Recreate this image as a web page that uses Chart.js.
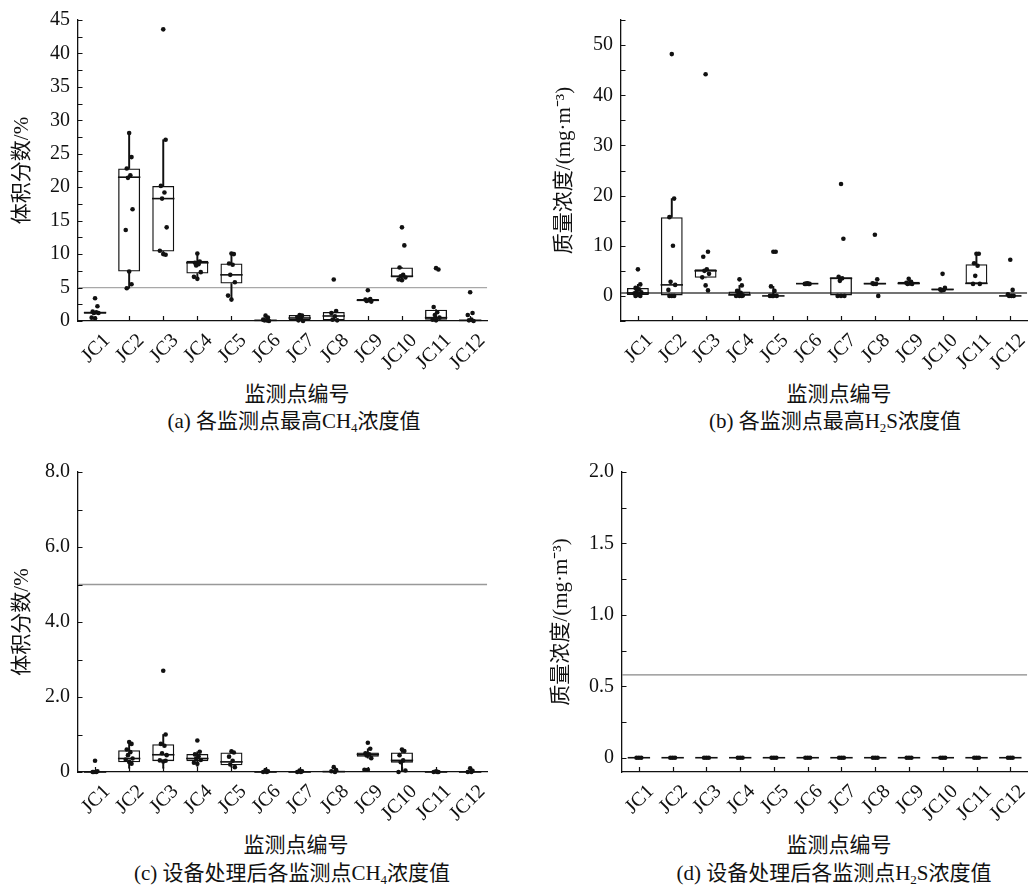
<!DOCTYPE html>
<html lang="zh-CN">
<head>
<meta charset="utf-8">
<title>监测点浓度箱线图</title>
<script src="https://cdn.jsdelivr.net/npm/chart.js@4.4.1/dist/chart.umd.min.js"></script>
<style>
html,body{margin:0;padding:0;background:#fff;}
body{width:1034px;height:889px;overflow:hidden;position:relative;font-family:"Liberation Serif","Noto Sans CJK SC",serif;color:#111;}
canvas{position:absolute;}
.lbl{position:absolute;transform:translate(-50%,-50%);white-space:nowrap;font-size:21px;line-height:1;}
.lbl sub{font-size:13px;vertical-align:-4px;line-height:0;}
</style>
</head>
<body>
<canvas id="pa" width="500" height="380" style="left:0;top:0"></canvas>
<canvas id="pb" width="500" height="380" style="left:540px;top:0"></canvas>
<canvas id="pc" width="500" height="380" style="left:0;top:452px"></canvas>
<canvas id="pd" width="500" height="380" style="left:540px;top:452px"></canvas>

<div class="lbl" style="left:297px;top:394px">监测点编号</div>
<div class="lbl" style="left:294px;top:421px">(a) 各监测点最高CH<sub>4</sub>浓度值</div>
<div class="lbl" style="left:839px;top:394px">监测点编号</div>
<div class="lbl" style="left:835px;top:421px">(b) 各监测点最高H<sub>2</sub>S浓度值</div>
<div class="lbl" style="left:296px;top:845px">监测点编号</div>
<div class="lbl" style="left:292px;top:873px">(c) 设备处理后各监测点CH<sub>4</sub>浓度值</div>
<div class="lbl" style="left:839px;top:845px">监测点编号</div>
<div class="lbl" style="left:834px;top:873px">(d) 设备处理后各监测点H<sub>2</sub>S浓度值</div>

<script>
// ---------------- data ----------------
const stations = ['JC1','JC2','JC3','JC4','JC5','JC6','JC7','JC8','JC9','JC10','JC11','JC12'];

// (a) highest CH4 volume fraction at each station, %
const ch4MaxPoints = [
  [3.4, 2.2, 1.4, 1.3, 1.2, 1.2, 0.5, 0.4],
  [28.1, 24.5, 22.8, 21.8, 21.4, 16.7, 13.6, 7.4, 5.5, 4.9],
  [43.6, 27.1, 20.2, 19.2, 18.3, 14.0, 10.5, 10.0, 9.9],
  [10.1, 8.9, 8.7, 8.5, 8.3, 7.3, 6.6, 6.3],
  [10.1, 10.0, 8.6, 8.4, 6.9, 5.8, 3.8, 3.2],
  [0.8, 0.5, 0.2, 0.1, 0.1, 0.0],
  [0.9, 0.8, 0.6, 0.3, 0.1, 0.0],
  [6.2, 1.5, 1.2, 0.7, 0.2, 0.1],
  [4.6, 3.3, 3.2, 3.1, 3.0, 2.9],
  [14.0, 11.3, 8.0, 6.9, 6.7, 6.5, 6.2, 6.1],
  [7.9, 7.7, 2.1, 1.3, 0.9, 0.5, 0.2, 0.1],
  [4.3, 1.2, 0.9, 0.2, 0.1, 0.0]
];
const ch4MaxQ1      = [1.1, 7.4, 10.4, 7.1, 5.6, 0.05, 0.1, 0.1, 2.95, 6.5, 0.2, 0.05];
const ch4MaxMedian  = [1.25, 21.5, 18.3, 8.7, 6.9, 0.1, 0.45, 0.75, 3.1, 6.7, 0.5, 0.1];
const ch4MaxQ3      = [1.4, 22.8, 20.2, 9.0, 8.6, 0.15, 0.9, 1.35, 3.3, 8.0, 1.7, 0.2];
const ch4MaxWhiskLo = [1.1, 4.9, 9.9, 6.3, 3.2, 0.05, 0.1, 0.1, 2.95, 6.1, 0.2, 0.05];
const ch4MaxWhiskHi = [1.4, 28.1, 27.1, 10.1, 10.1, 0.15, 0.9, 1.35, 3.3, 8.0, 1.7, 0.2];

// (b) highest H2S mass concentration at each station, mg/m3
const h2sMaxPoints = [
  [5.3, 2.3, 1.6, 1.3, 1.0, 0.7, 0.5, 0.2, 0.0, 0.0],
  [48.2, 19.4, 15.7, 10.0, 2.8, 2.2, 1.2, 0.0, 0.0, 0.0],
  [44.2, 8.8, 7.8, 5.3, 5.0, 4.4, 3.7, 2.1, 1.1],
  [3.3, 2.1, 1.0, 0.6, 0.3, 0.1, 0.0, 0.0, 0.0],
  [8.8, 8.8, 1.9, 1.0, 0.0, 0.0, 0.0, 0.0],
  [2.5, 2.4, 2.4, 2.4, 2.4],
  [22.3, 11.4, 3.8, 3.5, 3.0, 0.0, 0.0, 0.0],
  [12.2, 3.3, 2.5, 2.4, 2.4, 0.0],
  [3.4, 2.8, 2.6, 2.5, 2.4, 2.4],
  [4.4, 1.6, 1.3, 1.2, 1.1],
  [8.4, 8.4, 6.5, 6.0, 4.0, 2.4, 2.4],
  [7.2, 1.2, 0.3, 0.0, 0.0, 0.0]
];
const h2sMaxQ1      = [0.2, 0.0, 3.6, 0.0, 0.0, 2.35, 0.0, 2.3, 2.3, 1.1, 2.4, 0.0];
const h2sMaxMedian  = [0.6, 2.2, 5.0, 0.2, 0.0, 2.45, 3.5, 2.45, 2.5, 1.3, 2.5, 0.0];
const h2sMaxQ3      = [1.6, 15.7, 5.3, 0.9, 0.1, 2.5, 3.7, 2.6, 2.8, 1.45, 6.3, 0.1];
const h2sMaxWhiskLo = [0.0, 0.0, 3.6, 0.0, 0.0, 2.35, 0.0, 2.3, 2.3, 1.1, 2.4, 0.0];
const h2sMaxWhiskHi = [2.3, 19.4, 5.3, 2.1, 1.9, 2.5, 3.7, 2.6, 2.8, 1.45, 8.4, 0.1];

// (c) CH4 volume fraction after treatment, %
const ch4AfterPoints = [
  [0.3, 0.02, 0.0, 0.0, 0.0],
  [0.8, 0.75, 0.6, 0.53, 0.45, 0.36, 0.33, 0.27, 0.22],
  [2.7, 1.0, 0.75, 0.7, 0.5, 0.45, 0.31, 0.28, 0.3],
  [0.84, 0.54, 0.47, 0.42, 0.36, 0.32, 0.25, 0.22],
  [0.55, 0.52, 0.41, 0.3, 0.2, 0.13],
  [0.05, 0.02, 0.0, 0.0],
  [0.04, 0.02, 0.0, 0.0],
  [0.13, 0.05, 0.02, 0.0],
  [0.78, 0.62, 0.5, 0.47, 0.44, 0.37, 0.06, 0.06],
  [0.6, 0.56, 0.45, 0.31, 0.26, 0.04, 0.0],
  [0.02, 0.0, 0.0, 0.0],
  [0.1, 0.03, 0.0, 0.0]
];
const ch4AfterQ1      = [0.0, 0.26, 0.29, 0.29, 0.18, 0.0, 0.0, 0.0, 0.41, 0.25, 0.0, 0.0];
const ch4AfterMedian  = [0.0, 0.36, 0.46, 0.36, 0.27, 0.0, 0.0, 0.01, 0.47, 0.31, 0.0, 0.0];
const ch4AfterQ3      = [0.02, 0.58, 0.74, 0.48, 0.52, 0.01, 0.01, 0.02, 0.52, 0.52, 0.01, 0.02];
const ch4AfterWhiskLo = [0.0, 0.1, 0.1, 0.15, 0.13, 0.0, 0.0, 0.0, 0.37, 0.0, 0.0, 0.0];
const ch4AfterWhiskHi = [0.02, 0.8, 1.0, 0.54, 0.55, 0.01, 0.01, 0.02, 0.62, 0.6, 0.01, 0.02];

// (d) H2S mass concentration after treatment, mg/m3
const h2sAfterPoints = [
  [0,0,0],[0,0,0],[0,0,0],[0,0,0],[0,0,0],[0,0,0],
  [0,0,0],[0,0,0],[0,0,0],[0,0,0],[0,0,0],[0,0,0]
];
const h2sAfterQ1      = [0,0,0,0,0,0,0,0,0,0,0,0];
const h2sAfterMedian  = [0,0,0,0,0,0,0,0,0,0,0,0];
const h2sAfterQ3      = [0,0,0,0,0,0,0,0,0,0,0,0];
const h2sAfterWhiskLo = [0,0,0,0,0,0,0,0,0,0,0,0];
const h2sAfterWhiskHi = [0,0,0,0,0,0,0,0,0,0,0,0];

// limits
const ch4Limit = 5;     // %
const h2sLimit = 0.58;  // mg/m3

// axis ticks
const yMajorA = [0,5,10,15,20,25,30,35,40,45];
const yLabelA = ['0','5','10','15','20','25','30','35','40','45'];
const yMinorA = [2.5,7.5,12.5,17.5,22.5,27.5,32.5,37.5,42.5];
const yMajorB = [0,10,20,30,40,50];
const yLabelB = ['0','10','20','30','40','50'];
const yMinorB = [-5,5,15,25,35,45,55];
const yMajorC = [0,2,4,6,8];
const yLabelC = ['0','2.0','4.0','6.0','8.0'];
const yMinorC = [1,3,5,7];
const yMajorD = [0,0.5,1,1.5,2];
const yLabelD = ['0','0.5','1.0','1.5','2.0'];
const yMinorD = [0.25,0.75,1.25,1.75];

const titleCH4 = '体积分数/%';
const titleH2S = '质量浓度/(mg·m\u207B\u00B3)';

// ---------------- drawing ----------------
const SERIF = '"Liberation Serif", "Noto Sans CJK SC", serif';
const INK = '#111';
const jitter = [0, 0.07, -0.07, 0.035, -0.035, 0.1, -0.1];

// inward tick marks at the chart's own tick positions
const inwardTicks = {
  id: 'inwardTicks',
  afterDraw(chart) {
    const {ctx, chartArea: a, scales: {x, y}} = chart;
    ctx.save();
    ctx.strokeStyle = INK;
    ctx.lineWidth = 1.2;
    ctx.beginPath();
    y.ticks.forEach(t => {
      const p = Math.round(y.getPixelForValue(t.value)) + 0.5;
      ctx.moveTo(a.left, p); ctx.lineTo(a.left + 4.5, p);
    });
    x.ticks.forEach(t => {
      const p = Math.round(x.getPixelForValue(t.value)) + 0.5;
      ctx.moveTo(p, a.bottom); ctx.lineTo(p, a.bottom - 5);
    });
    ctx.stroke();
    ctx.restore();
  }
};

function makePanel(id, d, s) {
  const pts = [];
  d.points.forEach((arr, i) => arr.forEach((v, k) => pts.push({x: i + 1 + jitter[k % jitter.length], y: v})));
  const at = arr => arr.map((v, i) => ({x: i + 1, y: v}));
  const range = (lo, hi) => lo.map((v, i) => ({x: i + 1, y: [v, hi[i]]}));
  const yTicks = d.yMajor.concat(d.yMinor).sort((p, q) => p - q);

  new Chart(document.getElementById(id), {
    type: 'bar',
    data: {
      datasets: [
        {type: 'scatter', data: pts, order: 0, clip: false,
         pointRadius: 2.3, pointBackgroundColor: INK, pointBorderWidth: 0},
        {type: 'scatter', data: at(d.median), order: 1, clip: false,
         pointStyle: 'line', pointRadius: 11.2, pointBorderColor: INK, pointBorderWidth: 1.6},
        {type: 'bar', data: range(d.q1, d.q3), order: 2, clip: false, grouped: false,
         backgroundColor: 'rgba(0,0,0,0)', borderColor: INK, borderWidth: 1.3, borderSkipped: false,
         barPercentage: 0.645, categoryPercentage: 1},
        {type: 'bar', data: range(d.whiskLo, d.q1), order: 3, clip: false, grouped: false,
         backgroundColor: INK, borderWidth: 0, barThickness: 1.3},
        {type: 'bar', data: range(d.q3, d.whiskHi), order: 3, clip: false, grouped: false,
         backgroundColor: INK, borderWidth: 0, barThickness: 1.3},
        {type: 'line', data: [{x: 0.5, y: d.limit}, {x: stations.length + 0.5, y: d.limit}], order: 5,
         borderColor: s.limitColor, borderWidth: s.limitWidth, pointRadius: 0, fill: false}
      ]
    },
    options: {
      responsive: false,
      animation: false,
      devicePixelRatio: 1,
      layout: {padding: {top: s.top, right: s.right, bottom: 0, left: 0}},
      plugins: {legend: {display: false}, tooltip: {enabled: false}},
      scales: {
        x: {
          type: 'linear', min: 0.5, max: stations.length + 0.5, offset: false,
          afterBuildTicks: sc => { sc.ticks = stations.map((_, i) => ({value: i + 1})); },
          afterFit: sc => { sc.height = s.xHeight; },
          ticks: {autoSkip: false, maxRotation: 45, minRotation: 45, padding: 8, labelOffset: 12,
                  color: INK, font: {family: SERIF, size: 20},
                  callback: (v, i) => stations[i]},
          grid: {display: true, drawOnChartArea: false, drawTicks: false, offset: false},
          border: {display: true, color: INK, width: 1.3}
        },
        y: {
          type: 'linear', min: d.yMin, max: d.yMax,
          afterBuildTicks: sc => { sc.ticks = yTicks.map(v => ({value: v})); },
          afterFit: sc => { sc.width = s.yWidth; },
          ticks: {autoSkip: false, padding: 8, color: INK, font: {family: SERIF, size: 20},
                  callback: v => { const i = d.yMajor.indexOf(v); return i < 0 ? '' : d.yLabels[i]; }},
          grid: {display: true, drawOnChartArea: false, drawTicks: false},
          border: {display: true, color: INK, width: 1.3},
          title: {display: true, text: d.yTitle, color: INK, font: {family: SERIF, size: 21},
                  padding: {top: s.titlePad, bottom: 0}}
        }
      }
    },
    plugins: [inwardTicks]
  });
}

makePanel('pa',
  {points: ch4MaxPoints, q1: ch4MaxQ1, median: ch4MaxMedian, q3: ch4MaxQ3, whiskLo: ch4MaxWhiskLo, whiskHi: ch4MaxWhiskHi,
   limit: ch4Limit, yMin: 0, yMax: 45, yMajor: yMajorA, yLabels: yLabelA, yMinor: yMinorA, yTitle: titleCH4},
  {top: 17, right: 6, yWidth: 78, xHeight: 59, titlePad: 10, limitColor: '#a8a8a8', limitWidth: 1.2});

makePanel('pb',
  {points: h2sMaxPoints, q1: h2sMaxQ1, median: h2sMaxMedian, q3: h2sMaxQ3, whiskLo: h2sMaxWhiskLo, whiskHi: h2sMaxWhiskHi,
   limit: h2sLimit, yMin: -5, yMax: 55, yMajor: yMajorB, yLabels: yLabelB, yMinor: yMinorB, yTitle: titleH2S},
  {top: 18, right: 4, yWidth: 81, xHeight: 59, titlePad: 12, limitColor: '#444', limitWidth: 1.5});

makePanel('pc',
  {points: ch4AfterPoints, q1: ch4AfterQ1, median: ch4AfterMedian, q3: ch4AfterQ3, whiskLo: ch4AfterWhiskLo, whiskHi: ch4AfterWhiskHi,
   limit: ch4Limit, yMin: 0, yMax: 8, yMajor: yMajorC, yLabels: yLabelC, yMinor: yMinorC, yTitle: titleCH4},
  {top: 17, right: 6, yWidth: 78, xHeight: 60, titlePad: 10, limitColor: '#999', limitWidth: 1.5});

makePanel('pd',
  {points: h2sAfterPoints, q1: h2sAfterQ1, median: h2sAfterMedian, q3: h2sAfterQ3, whiskLo: h2sAfterWhiskLo, whiskHi: h2sAfterWhiskHi,
   limit: h2sLimit, yMin: -0.1, yMax: 2.0, yMajor: yMajorD, yLabels: yLabelD, yMinor: yMinorD, yTitle: titleH2S},
  {top: 17, right: 4, yWidth: 82, xHeight: 60, titlePad: 9, limitColor: '#888', limitWidth: 1.1});
</script>
</body>
</html>
